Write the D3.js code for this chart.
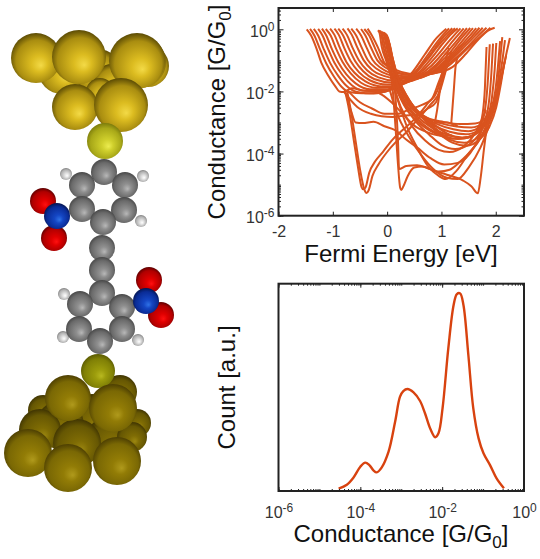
<!DOCTYPE html>
<html><head><meta charset="utf-8">
<script src="https://cdnjs.cloudflare.com/ajax/libs/d3/7.8.5/d3.min.js"></script>
<style>html,body{margin:0;background:#fff}svg{display:block}text{font-family:"Liberation Sans",Arial,sans-serif}</style>
</head><body><svg id="c" width="540" height="559"></svg>
<script>
// Fermi-energy traces: [E (eV), log10(G/G0)]
const uShaped = [
 [[-1.48,0],[-1.4,-.2],[-1.3,-.62],[-1.21,-1.08],[-1.08,-1.5],[-.96,-1.82],[-.88,-2],[-.8,-2.02],[-.65,-1.9],[-.4,-1.98],[-.1,-1.98],[.2,-1.84],[.47,-1.37],[.69,-.82],[.9,-.3],[1.09,.02]],
 [[-1.42,.01],[-1.34,-.2],[-1.24,-.62],[-1.12,-1.1],[-.98,-1.52],[-.84,-1.85],[-.7,-2.02],[-.45,-2.06],[-.2,-2.05],[.1,-1.92],[.35,-1.62],[.55,-1.3],[.75,-.82],[.97,-.3],[1.14,.03]],
 [[-1.35,.01],[-1.27,-.2],[-1.17,-.62],[-1.05,-1.08],[-.9,-1.5],[-.75,-1.82],[-.55,-2.02],[-.25,-2.07],[.05,-1.96],[.35,-1.68],[.6,-1.25],[.82,-.75],[1.02,-.28],[1.2,.03]],
 [[-1.27,.01],[-1.19,-.2],[-1.09,-.62],[-.97,-1.08],[-.82,-1.48],[-.65,-1.8],[-.42,-1.98],[-.1,-2],[.2,-1.82],[.48,-1.48],[.72,-1.02],[.93,-.55],[1.1,-.22],[1.25,.03]],
 [[-1.2,.02],[-1.12,-.2],[-1.02,-.62],[-.9,-1.06],[-.75,-1.45],[-.58,-1.74],[-.32,-1.93],[0,-1.93],[.3,-1.74],[.6,-1.36],[.82,-.92],[1.03,-.45],[1.18,-.15],[1.3,.03]],
 [[-1.13,.01],[-1.04,-.2],[-.94,-.62],[-.82,-1.05],[-.67,-1.42],[-.48,-1.72],[-.2,-1.88],[.12,-1.86],[.42,-1.64],[.7,-1.26],[.92,-.85],[1.12,-.42],[1.35,.03]],
 [[-1.05,.02],[-.97,-.18],[-.87,-.6],[-.75,-1.05],[-.6,-1.4],[-.4,-1.68],[-.1,-1.84],[.22,-1.8],[.52,-1.56],[.8,-1.2],[1.02,-.78],[1.22,-.36],[1.41,.03]],
 [[-.97,.02],[-.89,-.18],[-.79,-.6],[-.67,-1.03],[-.52,-1.38],[-.32,-1.64],[0,-1.78],[.32,-1.72],[.62,-1.5],[.9,-1.14],[1.1,-.74],[1.3,-.33],[1.47,.04]],
 [[-.9,.02],[-.81,-.2],[-.71,-.6],[-.59,-1.02],[-.44,-1.35],[-.24,-1.6],[.08,-1.71],[.4,-1.68],[.7,-1.46],[.96,-1.1],[1.18,-.7],[1.36,-.3],[1.53,.04]],
 [[-.82,.02],[-.74,-.18],[-.64,-.58],[-.52,-1],[-.37,-1.32],[-.16,-1.55],[.16,-1.66],[.48,-1.62],[.78,-1.42],[1.03,-1.07],[1.25,-.66],[1.43,-.28],[1.58,.04]],
 [[-.73,.03],[-.65,-.18],[-.55,-.58],[-.43,-1],[-.28,-1.3],[-.06,-1.5],[.25,-1.6],[.56,-1.58],[.84,-1.38],[1.09,-1.03],[1.31,-.62],[1.49,-.27],[1.64,.04]],
 [[-.66,.02],[-.57,-.2],[-.47,-.58],[-.36,-.98],[-.2,-1.26],[.02,-1.46],[.32,-1.55],[.63,-1.52],[.9,-1.33],[1.15,-.98],[1.37,-.58],[1.55,-.25],[1.7,.05]],
 [[-.57,.02],[-.48,-.2],[-.38,-.58],[-.27,-.98],[-.12,-1.24],[.1,-1.43],[.4,-1.52],[.7,-1.48],[.98,-1.28],[1.21,-.93],[1.43,-.55],[1.61,-.23],[1.76,.05]],
 [[-.48,.01],[-.4,-.2],[-.3,-.58],[-.18,-1],[-.04,-1.22],[.18,-1.4],[.48,-1.48],[.78,-1.44],[1.04,-1.25],[1.28,-.9],[1.49,-.55],[1.67,-.22],[1.83,.05]],
 [[-.42,.01],[-.33,-.2],[-.23,-.58],[-.12,-1],[.03,-1.2],[.26,-1.37],[.56,-1.45],[.85,-1.42],[1.1,-1.22],[1.34,-.85],[1.55,-.5],[1.74,-.2],[1.9,.05]],
 [[-.36,.02],[-.28,-.2],[-.17,-.58],[-.05,-1.08],[.1,-1.3],[.32,-1.45],[.62,-1.44],[.92,-1.4],[1.2,-1.22],[1.46,-.77],[1.7,-.29],[1.85,-.05],[1.98,.05]]
];
const steepDrop = [
 [[-.17,-.03],[-.14,-.12],[-.1,-.56],[-.02,-1],[.07,-1.5],[.2,-2.05],[.35,-2.55],[.55,-2.95],[.85,-3.32],[1.2,-3.52],[1.5,-3.48],[1.68,-3.2],[1.76,-2.7],[1.8,-1.9],[1.83,-.57]],
 [[-.15,-.04],[-.11,-.14],[-.07,-.56],[.01,-1.05],[.1,-1.6],[.25,-2.2],[.45,-2.68],[.68,-3.08],[1,-3.4],[1.3,-3.53],[1.55,-3.45],[1.72,-3.1],[1.81,-2.5],[1.86,-1.5],[1.89,-.48]],
 [[-.13,-.05],[-.09,-.16],[-.04,-.56],[.04,-1.1],[.14,-1.72],[.3,-2.3],[.52,-2.75],[.78,-3.12],[1.08,-3.38],[1.38,-3.48],[1.62,-3.38],[1.78,-3],[1.87,-2.4],[1.92,-1.4],[1.95,-.46]],
 [[-.1,-.08],[-.06,-.18],[-.01,-.56],[.07,-1.12],[.18,-1.8],[.35,-2.35],[.58,-2.75],[.85,-3.08],[1.15,-3.3],[1.45,-3.38],[1.68,-3.25],[1.84,-2.85],[1.93,-2.2],[1.98,-1.3],[2.01,-.44]],
 [[-.08,-.1],[-.04,-.2],[.01,-.58],[.1,-1.2],[.22,-1.85],[.4,-2.4],[.63,-2.78],[.92,-3.05],[1.22,-3.22],[1.5,-3.28],[1.74,-3.1],[1.9,-2.65],[1.99,-2],[2.04,-1.2],[2.08,-.38]],
 [[-.06,-.1],[-.02,-.22],[.03,-.6],[.12,-1.25],[.25,-1.9],[.44,-2.42],[.68,-2.8],[.98,-3.02],[1.28,-3.13],[1.55,-3.16],[1.78,-3],[1.94,-2.5],[2.03,-1.85],[2.08,-1],[2.12,-.25]],
 [[-.04,-.12],[0,-.25],[.05,-.66],[.14,-1.3],[.28,-1.95],[.48,-2.5],[.74,-2.85],[1.04,-2.98],[1.34,-3.05],[1.62,-3.03],[1.84,-2.8],[1.99,-2.3],[2.07,-1.6],[2.13,-.9],[2.17,-.35]],
 [[-.02,-.15],[.02,-.3],[.07,-.72],[.16,-1.4],[.32,-2.05],[.55,-2.6],[.85,-3.05],[1.1,-3.35],[1.38,-3.5],[1.62,-3.38],[1.85,-2.95],[2.02,-2.25],[2.12,-1.4],[2.2,-.75],[2.26,-.28]],
 [[-.01,-.2],[.03,-.4],[.09,-.85],[.19,-1.5],[.36,-2.15],[.6,-2.75],[.9,-3.2],[1.15,-3.55],[1.42,-3.65],[1.66,-3.5],[1.86,-3.1],[2,-2.4],[2.1,-1.6],[2.19,-.85]],
 [[0,-.25],[.05,-.5],[.11,-1],[.21,-1.6],[.4,-2.25],[.65,-2.85],[.95,-3.35],[1.2,-3.65],[1.46,-3.75],[1.7,-3.55],[1.88,-3.15],[2.01,-2.5],[2.1,-1.7],[2.16,-1.05]]
];
const deepTraces = [
 [[-.78,-1.95],[-.7,-2.6],[-.62,-3.5],[-.54,-4.4],[-.47,-5.08],[-.44,-5.15],[-.4,-5.1],[-.33,-4.62],[-.22,-4.25],[-.08,-3.95],[.1,-3.55],[.28,-3.25],[.5,-2.9],[.75,-2.38],[.92,-2],[1.03,-1.3],[1.14,-.6]],
 [[-.74,-1.95],[-.66,-2.7],[-.58,-3.6],[-.5,-4.5],[-.42,-5.15],[-.38,-5.27],[-.34,-5.18],[-.27,-4.72],[-.16,-4.35],[0,-3.95],[.15,-3.65],[.35,-3.32],[.55,-2.92],[.8,-2.42],[.97,-2],[1.07,-1.4],[1.18,-.7]],
 [[.08,-1.5],[.12,-2.3],[.16,-3.3],[.2,-4.35],[.24,-5.1],[.26,-5.17],[.3,-5.05],[.38,-4.72],[.5,-4.45],[.65,-4.42],[.85,-4.55],[1.1,-4.68],[1.4,-4.87],[1.55,-5.05],[1.67,-5.28],[1.72,-4.8],[1.78,-3.9],[1.83,-3.2]],
 [[.13,-1.7],[.17,-2.6],[.2,-3.6],[.22,-4.5],[.35,-4.4],[.55,-4.38],[.75,-4.47],[.95,-4.58],[1.15,-4.52],[1.35,-4.25],[1.55,-3.9],[1.75,-3.4],[1.9,-2.8]],
 [[.07,-1.55],[.2,-2.3],[.38,-3.2],[.55,-3.8],[.75,-4.4],[.95,-4.72],[1.08,-4.82],[1.28,-4.55],[1.48,-4.05],[1.72,-3.5],[1.95,-2.55]],
 [[.04,-1.9],[.18,-2.7],[.4,-3.45],[.65,-4.1],[.85,-4.5],[1.1,-4.78],[1.3,-4.82],[1.5,-4.45],[1.72,-3.8],[1.88,-3.1]],
 [[.1,-1.7],[.25,-2.5],[.45,-3.1],[.7,-3.58],[.95,-3.88],[1.15,-3.95],[1.4,-3.78],[1.62,-3.35],[1.82,-2.6]],
 [[.16,-1.6],[.3,-2.35],[.52,-2.95],[.78,-3.4],[1,-3.72],[1.25,-3.85],[1.5,-3.72],[1.72,-3.3],[1.92,-2.5]],
 [[-.76,-2.05],[-.66,-2.65],[-.58,-3],[-.45,-3.02],[-.25,-2.98],[-.05,-3.12],[.15,-3.25],[.35,-3.55],[.55,-3.8],[.8,-4.15],[1.05,-4.35],[1.3,-4.3],[1.6,-3.8],[1.78,-3.1]],
 [[-.8,-2],[-.55,-2.5],[-.3,-2.72],[-.1,-2.8],[.1,-2.82],[.3,-2.78],[.55,-2.75],[.75,-2.55],[.9,-2.35],[1,-1.7],[1.1,-1]],
 [[-.72,-1.98],[-.5,-2.35],[-.28,-2.55],[-.05,-2.72],[.2,-2.72],[.4,-2.58],[.62,-2.45],[.82,-2.25],[.95,-1.7],[1.06,-1.2]],
 [[-.3,-1.95],[-.1,-2.1],[.1,-2.38],[.3,-2.75],[.5,-3.1],[.72,-3.3],[.98,-3.42],[1.2,-3.42]],
 [[.88,-3],[.92,-3],[1,-3],[1.1,-3],[1.2,-3.05],[1.3,-3.1]],
 [[.86,-3.18],[.92,-2.6],[.98,-1.9],[1.06,-1.4],[1.12,-1.05]],
 [[1.18,-3.05],[1.2,-2.6],[1.23,-1.9],[1.26,-1.2],[1.3,-.9]]
];
// Conductance histogram
const histLogG = [-4.53,-4.33,-4.17,-4,-3.88,-3.78,-3.68,-3.6,-3.48,-3.31,-3.15,-3.03,-2.95,-2.85,-2.7,-2.54,-2.42,-2.29,-2.17,-2.09,-1.99,-1.85,-1.72,-1.64,-1.56,-1.48,-1.36,-1.24,-1.11,-.99,-.83,-.67,-.49];
const histCount = [.011,.03,.064,.117,.137,.125,.1,.09,.113,.19,.334,.455,.482,.492,.476,.434,.375,.3,.259,.278,.4,.688,.897,.95,.953,.897,.656,.4,.254,.182,.125,.061,.013];
const energyTicks = [-2,-1,0,1,2];
const conductanceDecades = [-6,-4,-2,0];
// Molecule illustration: [atom kind, x, y, radius]
const atoms = [
 ["au",62,70,24],["au",98,72,23],["au",112,82,18],["au",148,66,21],["au",36,58,25],["au",140,62,26],["au",79,57,27],["au",137,61,28],
 ["au",100,92,14],["au",75,107,23],["au",121,105,27],["s1",105,141,18],
 ["c",104,172,13],["c",82,185,13],["c",125,185,13],["h",66,174,6],["h",143,176,6],["c",82,209,13],["c",124,210,13],["h",141,221,6],
 ["o",43,201,13],["o",54,238,13],["n",57,216,13],["c",103,222,13],["c",102,248,13],["c",102,270,13],["c",102,293,13],
 ["c",80,304,13],["c",122,307,13],["h",64,294,6],["o",149,280,13],["o",161,315,13],["n",146,301,13],["h",63,337,6],["h",138,340,6],
 ["c",79,329,13],["c",122,329,13],["c",100,341,13],
 ["ab",120,392,17],["ab",43,410,15],["ab",137,423,14],["ab",92,420,26],["ab",60,425,24],["ab",110,440,24],["ab",40,430,21],["ab",132,437,15],["ab",77,443,24],
 ["ad",68,398,23],["s2",98,371,17],["ad",113,408,24],["ad",28,453,24],["ad",117,461,24],["ad",68,468,24]
];
const atomColors = {
 au:["#f3da47","#dcbc20","#a98d10","#5a4a04"], ad:["#b09a1c","#927c06","#7a6804","#4d3f02"], ab:["#9c8710","#7f6c04","#665703","#3f3402"],
 s1:["#ecec50","#cfcf2c","#a8a818","#7c7c0c"], s2:["#b8b820","#9c9c0c","#808006","#5a5a02"],
 c:["#b8b8b8","#8f8f8f","#6a6a6a","#474747"], h:["#ffffff","#e4e4e4","#b0b0b0","#7c7c7c"],
 o:["#ff1010","#e00000","#b00000","#5c0000"], n:["#2f72e6","#1446c4","#0a2c96","#04154f"]
};
const orange="#d9531e", hOrange="#d8420f", frame="#222", tickText="#333", titleText="#111";
const svg=d3.select("#c"), defs=svg.append("defs");
Object.entries(atomColors).forEach(([k,c])=>{
  const g=defs.append("radialGradient").attr("id","g-"+k).attr("cx",.5).attr("cy",.54).attr("r",.54).attr("fx",.6).attr("fy",.65);
  [0,.3,.78,1].forEach((o,i)=>g.append("stop").attr("offset",o).attr("stop-color",c[i]));
});
svg.append("g").selectAll("circle").data(atoms).join("circle")
  .attr("cx",d=>d[1]).attr("cy",d=>d[2]).attr("r",d=>d[3]).attr("fill",d=>`url(#g-${d[0]})`);

function powerLabels(sel,base){
  sel.selectAll("text").each(function(d){
    const t=d3.select(this).text("").style("font-size",base+"px").attr("fill",tickText);
    t.append("tspan").text("10");
    t.append("tspan").attr("dy",-6).style("font-size",(base-4)+"px").text(Math.round(Math.log10(d)));
  });
}
function minorLog(lo,hi){const a=[];for(let e=lo;e<hi;e++)for(let m=1;m<10;m++)a.push(m*Math.pow(10,e));return a;}
function frameBox(g,x0,x1,y0,y1){g.append("rect").attr("x",x0).attr("y",y0).attr("width",x1-x0).attr("height",y1-y0).attr("fill","none").attr("stroke",frame).attr("stroke-width",2);}
function cleanAxis(g){g.select(".domain").remove();g.selectAll(".tick line").attr("stroke",frame);}
function conductanceTitle(sel){
  sel.append("tspan").text("Conductance [G/G");
  sel.append("tspan").attr("dy",6).style("font-size","17px").text("0");
  sel.append("tspan").attr("dy",-6).text("]");
}

// Top panel
const X0=278.5,X1=524,T0=8,T1=215.7;
const xE=d3.scaleLinear().domain([-2,2.52]).range([X0,X1]);
const yG=d3.scaleLog().domain([1e-6,Math.pow(10,.685)]).range([T1,T0]);
const topP=svg.append("g");
const line=d3.line().x(d=>xE(d[0])).y(d=>yG(Math.pow(10,d[1]))).curve(d3.curveMonotoneX);
topP.append("g").selectAll("path").data([...uShaped,...steepDrop,...deepTraces]).join("path")
  .attr("d",line).attr("fill","none").attr("stroke",orange).attr("stroke-width",2);
const decades=conductanceDecades.map(e=>Math.pow(10,e));
const yMinor=minorLog(-6,0).concat([2,3,4,5]);
topP.append("g").attr("transform",`translate(${X0},0)`).call(d3.axisRight(yG).tickValues(yMinor).tickSize(2.5).tickFormat("")).call(cleanAxis);
topP.append("g").attr("transform",`translate(${X1},0)`).call(d3.axisLeft(yG).tickValues(yMinor).tickSize(2.5).tickFormat("")).call(cleanAxis);
topP.append("g").attr("transform",`translate(${X1},0)`).call(d3.axisLeft(yG).tickValues(decades).tickSize(5).tickFormat("")).call(cleanAxis);
topP.append("g").attr("transform",`translate(${X0},0)`).call(d3.axisLeft(yG).tickValues(decades).tickSize(-5).tickPadding(4).tickFormat(d=>d))
  .call(cleanAxis).call(g=>powerLabels(g,16)).call(g=>g.selectAll("text").attr("dy","0.45em"));
topP.append("g").attr("transform",`translate(0,${T0})`).call(d3.axisTop(xE).tickValues(energyTicks).tickSize(-4).tickFormat("")).call(cleanAxis);
topP.append("g").attr("transform",`translate(0,${T1})`).call(d3.axisBottom(xE).tickValues(energyTicks).tickSize(-4).tickPadding(10).tickFormat(d=>d))
  .call(cleanAxis).call(g=>g.selectAll("text").style("font-size","16px").attr("fill",tickText));
frameBox(topP,X0,X1,T0,T1);
topP.append("text").attr("x",401).attr("y",262).attr("text-anchor","middle").style("font-size","24px").attr("fill",titleText).text("Fermi Energy [eV]");
topP.append("text").attr("transform","translate(225,112) rotate(-90)").attr("text-anchor","middle").style("font-size","24px").attr("fill",titleText).call(conductanceTitle);

// Bottom panel
const B0=283.7,B1=491;
const xC=d3.scaleLog().domain([1e-6,1]).range([X0,X1]);
const yC=d3.scaleLinear().domain([0,1]).range([B1,B0]);
const bot=svg.append("g");
bot.append("path").datum(d3.zip(histLogG,histCount))
  .attr("d",d3.line().x(d=>xC(Math.pow(10,d[0]))).y(d=>yC(d[1])).curve(d3.curveCatmullRom))
  .attr("fill","none").attr("stroke",hOrange).attr("stroke-width",2.4);
const xMinor=minorLog(-6,0);
bot.append("g").attr("transform",`translate(0,${B0})`).call(d3.axisBottom(xC).tickValues(xMinor).tickSize(2).tickFormat("")).call(cleanAxis);
bot.append("g").attr("transform",`translate(0,${B0})`).call(d3.axisBottom(xC).tickValues(decades).tickSize(4).tickFormat("")).call(cleanAxis);
bot.append("g").attr("transform",`translate(0,${B1})`).call(d3.axisTop(xC).tickValues(xMinor).tickSize(2).tickFormat("")).call(cleanAxis);
bot.append("g").attr("transform",`translate(0,${B1})`).call(d3.axisBottom(xC).tickValues(decades).tickSize(-4).tickPadding(16).tickFormat(d=>d))
  .call(cleanAxis).call(g=>powerLabels(g,16));
frameBox(bot,X0,X1,B0,B1);
bot.append("text").attr("x",401).attr("y",542).attr("text-anchor","middle").style("font-size","24px").attr("fill",titleText).call(conductanceTitle);
bot.append("text").attr("transform","translate(235,387.5) rotate(-90)").attr("text-anchor","middle").style("font-size","24px").attr("fill",titleText).text("Count [a.u.]");
</script></body></html>
